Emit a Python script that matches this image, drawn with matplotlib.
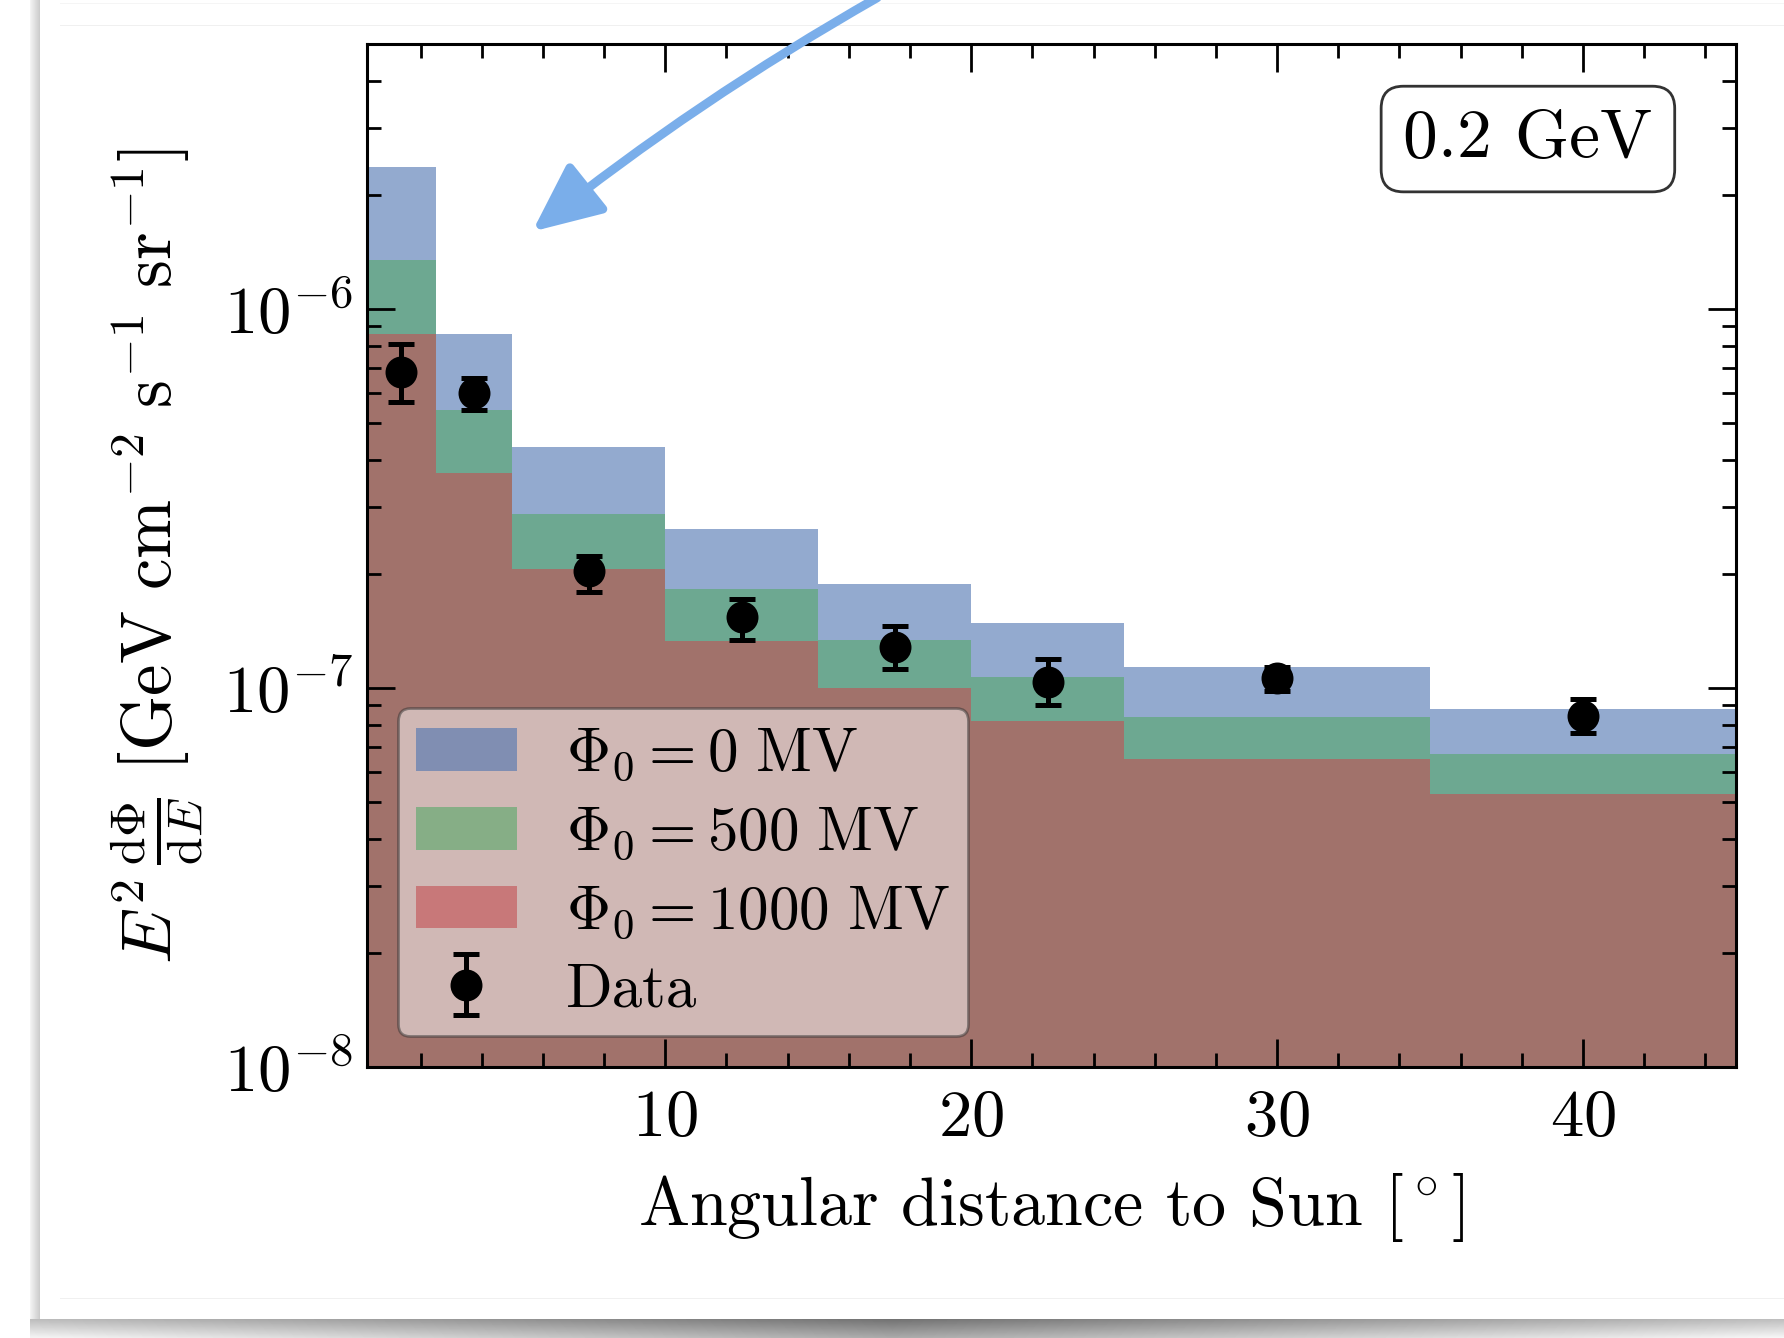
import numpy as np
import matplotlib.pyplot as plt
from matplotlib.patches import FancyArrowPatch
from matplotlib.ticker import MultipleLocator

# FONTS (Computer Modern look)
plt.rcParams['font.family'] = 'serif'
plt.rcParams['font.serif'] = ['cmr10']
plt.rcParams['mathtext.fontset'] = 'cm'
plt.rcParams['axes.formatter.use_mathtext'] = True

# DATA
bin_edges = [0.25, 2.5, 5, 10, 15, 20, 25, 35, 45]
flux_0mv = [2.37e-6, 8.6e-7, 4.31e-7, 2.62e-7, 1.88e-7, 1.48e-7, 1.135e-7, 8.8e-8]
flux_500mv = [1.35e-6, 5.41e-7, 2.88e-7, 1.82e-7, 1.34e-7, 1.07e-7, 8.39e-8, 6.68e-8]
flux_1000mv = [8.6e-7, 3.70e-7, 2.06e-7, 1.33e-7, 1.0e-7, 8.2e-8, 6.5e-8, 5.25e-8]

data_x = [1.375, 3.75, 7.5, 12.5, 17.5, 22.5, 30, 40]
data_y = [6.8e-7, 6.0e-7, 2.03e-7, 1.54e-7, 1.28e-7, 1.04e-7, 1.06e-7, 8.45e-8]
data_hi = [8.07e-7, 6.56e-7, 2.23e-7, 1.72e-7, 1.46e-7, 1.19e-7, 1.135e-7, 9.37e-8]
data_lo = [5.68e-7, 5.41e-7, 1.79e-7, 1.34e-7, 1.12e-7, 8.99e-8, 9.84e-8, 7.62e-8]

labels = [r'$\Phi_0 = 0\ \mathrm{MV}$', r'$\Phi_0 = 500\ \mathrm{MV}$',
          r'$\Phi_0 = 1000\ \mathrm{MV}$', 'Data']
colors = ['#4C72B0', '#55A868', '#C44E52']

W, H = 1784, 1338
fig = plt.figure(figsize=(W / 200, H / 200), dpi=200)

# screenshot frame (shadow) behind the plot
bg = np.ones((H, W))
bg[:, 30:40] = np.linspace(0.95, 0.8, 10)[None, :]
xs = np.arange(W)
shade = 0.45 + 0.3 * np.abs(xs - W / 2) / (W / 2)
for k, r in enumerate(range(1319, H)):
    bg[r, 30:] = np.minimum(1.0, shade[30:] + 0.012 * k)
bg[25, 60:] = 0.94
bg[1298, 60:] = 0.94
bg[3, 60:] = 0.96
bax = fig.add_axes([0, 0, 1, 1], zorder=-1)
bax.imshow(bg, cmap='gray', vmin=0, vmax=1, aspect='auto', interpolation='bilinear')
bax.axis('off')

ax = fig.add_axes([367 / W, 1 - 1067 / H, (1736 - 367) / W, (1067 - 44) / H])

widths = np.diff(bin_edges)
handles = []
for vals, c, lab in zip([flux_0mv, flux_500mv, flux_1000mv], colors, labels[:3]):
    h = ax.bar(bin_edges[:-1], vals, width=widths, align='edge', color=c,
               alpha=0.6, linewidth=0, label=lab)
    handles.append(h)

yerr = [np.array(data_y) - np.array(data_lo), np.array(data_hi) - np.array(data_y)]
eb = ax.errorbar(data_x, data_y, yerr=yerr, fmt='o', color='black', ms=10.5,
                 elinewidth=1.8, capsize=4.8, capthick=1.8, label='Data')
handles.append(eb)

ax.set_yscale('log')
ax.set_xlim(0.25, 45)
ax.set_ylim(1e-8, 5e-6)
ax.xaxis.set_major_locator(MultipleLocator(10))
ax.xaxis.set_minor_locator(MultipleLocator(2))
ax.tick_params(which='both', direction='in', top=True, right=True, labelsize=24)
ax.tick_params(which='major', length=10, width=1.0)
ax.tick_params(which='minor', length=5, width=1.0)
ax.tick_params(axis='x', pad=8)
ax.tick_params(axis='y', pad=5)
for s in ax.spines.values():
    s.set_linewidth(1.1)

ax.set_xlabel(r'Angular distance to Sun $[^\circ]$', fontsize=24.5, labelpad=8)
ax.set_ylabel(r'$E^2\,\frac{\mathrm{d}\Phi}{\mathrm{d}E}\ [\mathrm{GeV\ cm^{-2}\ s^{-1}\ sr^{-1}}]$',
              fontsize=25.5, labelpad=6)

leg = ax.legend(handles, labels, loc='lower left', fontsize=22, framealpha=0.5,
                handlelength=1.65, handletextpad=0.8, labelspacing=0.36,
                borderpad=0.3, borderaxespad=0.5, fancybox=True)
leg.get_frame().set_edgecolor('#333333')
leg.get_frame().set_linewidth(1.0)

ax.text(0.939, 0.937, '0.2 GeV', transform=ax.transAxes, ha='right', va='top',
        fontsize=25,
        bbox=dict(boxstyle='round,pad=0.32', fc='white', ec='#333333', lw=1.0))

# annotation arrow over the figure
arrow = FancyArrowPatch((882 / W, 1 - (-5) / H), (528 / W, 1 - 235 / H),
                        transform=fig.transFigure, connectionstyle='arc3,rad=0.04',
                        arrowstyle='-|>,head_length=21,head_width=9.5',
                        color='#7aaeea', lw=3.2, zorder=10)
fig.add_artist(arrow)

fig.savefig('out.png', dpi=200)
